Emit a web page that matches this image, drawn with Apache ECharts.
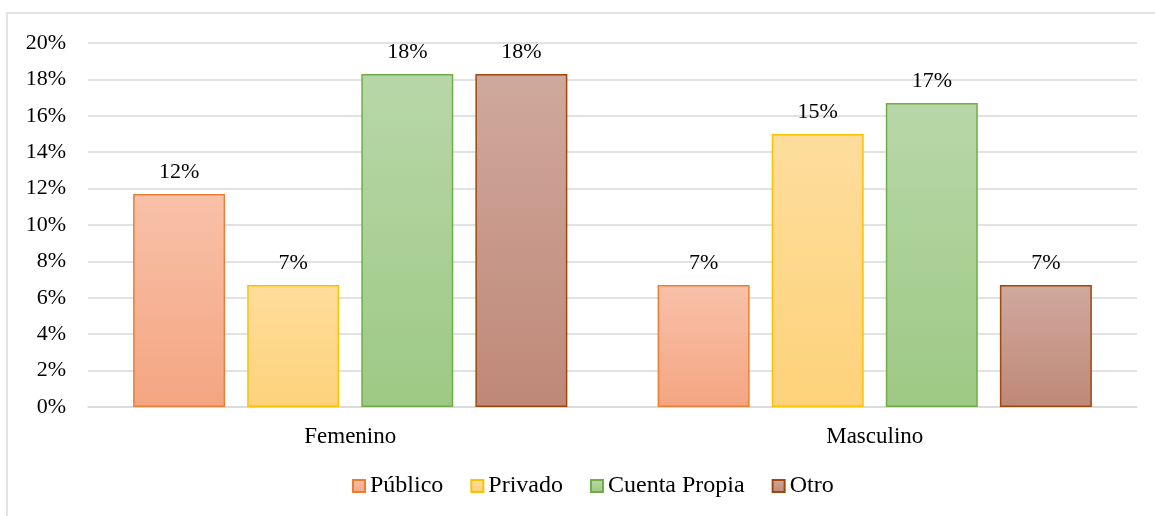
<!DOCTYPE html>
<html>
<head>
<meta charset="UTF-8">
<script src="https://cdn.jsdelivr.net/npm/echarts@6/dist/echarts.min.js"></script>
<style>
  html, body { margin: 0; padding: 0; background: #fff; }
  #chart { width: 1155px; height: 516px; }
</style>
</head>
<body>
<div id="chart"></div>
<script>
// data
var categories = ['Femenino', 'Masculino'];
var seriesNames = ['Público', 'Privado', 'Cuenta Propia', 'Otro'];
var publico = [11.7, 6.7];
var privado = [6.7, 15.0];
var cuentaPropia = [18.3, 16.7];
var otro = [18.3, 6.7];
var yTicks = [0, 2, 4, 6, 8, 10, 12, 14, 16, 18, 20];

// top colour, bottom colour, border
var palette = [
  ['#f8c1a9', '#f4a581', '#ed7d31'],
  ['#fedd9c', '#fdd27a', '#ffc000'],
  ['#b8d7a9', '#9dc984', '#70ad47'],
  ['#cfa99d', '#bf8878', '#9e480e']
];
var values = [publico, privado, cuentaPropia, otro];

var font = '"Liberation Serif", "Times New Roman", serif';

var series = seriesNames.map(function (name, i) {
  return {
    name: name,
    type: 'bar',
    data: values[i],
    barWidth: 92,
    barGap: '24%',
    itemStyle: {
      color: new echarts.graphic.LinearGradient(0, 0, 0, 1, [
        { offset: 0, color: palette[i][0] },
        { offset: 1, color: palette[i][1] }
      ]),
      borderColor: palette[i][2],
      borderWidth: 1.5
    },
    label: {
      show: true,
      position: 'top',
      distance: 11,
      color: '#000',
      fontFamily: font,
      fontSize: 22,
      formatter: function (p) { return Math.round(p.value) + '%'; }
    }
  };
});

var chart = echarts.init(document.getElementById('chart'));
chart.setOption({
  animation: false,
  graphic: [{
    type: 'rect',
    shape: { x: 7, y: 13, width: 1160, height: 520 },
    style: { fill: 'none', stroke: '#d9d9d9', lineWidth: 1.5 },
    silent: true
  }],
  grid: { left: 88, right: 18, top: 43, bottom: 109 },
  legend: {
    bottom: 13,
    left: 347,
    itemWidth: 12,
    itemHeight: 12,
    itemGap: 27,
    icon: 'rect',
    textStyle: { fontFamily: font, fontSize: 24, color: '#000' },
    data: seriesNames
  },
  xAxis: {
    type: 'category',
    data: categories,
    axisLine: { lineStyle: { color: '#d9d9d9', width: 1.5 } },
    axisTick: { show: false },
    axisLabel: { fontFamily: font, fontSize: 23, color: '#000', margin: 18 }
  },
  yAxis: {
    type: 'value',
    min: yTicks[0],
    max: yTicks[yTicks.length - 1],
    interval: 2,
    axisLine: { show: false },
    axisTick: { show: false },
    splitLine: { lineStyle: { color: '#d9d9d9', width: 1.5 } },
    axisLabel: { fontFamily: font, fontSize: 22, color: '#000', margin: 22,
      formatter: function (v) { return v + '%'; } }
  },
  series: series
});
</script>
</body>
</html>
